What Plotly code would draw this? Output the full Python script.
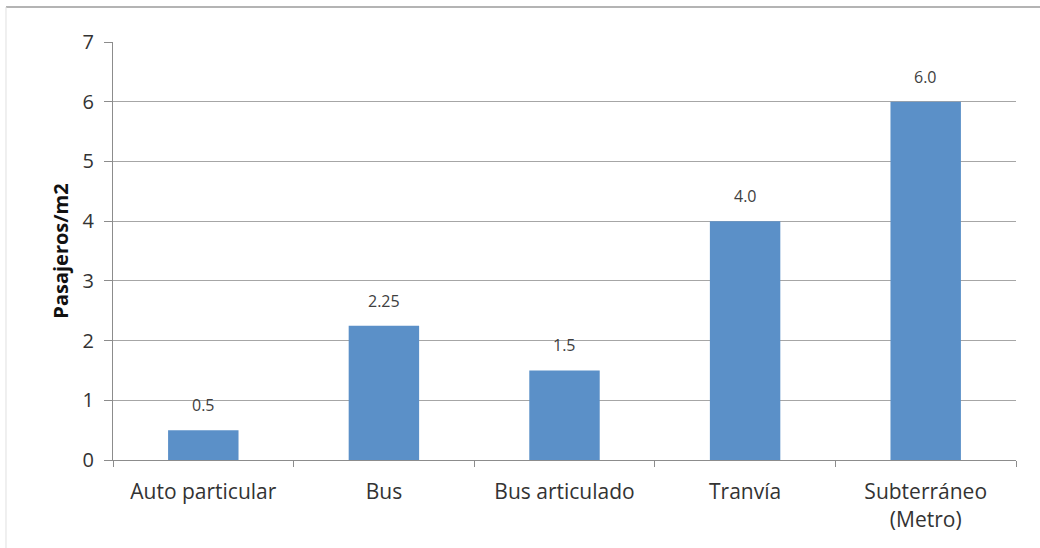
import plotly.graph_objects as go

categories = ["Auto particular", "Bus", "Bus articulado", "Tranvía", "Subterráneo<br>(Metro)"]
values = [0.5, 2.25, 1.5, 4.0, 6.0]
value_labels = ["0.5", "2.25", "1.5", "4.0", "6.0"]
y_ticks = [0, 1, 2, 3, 4, 5, 6, 7]

FONT = "Open Sans"
TXT = "#404040"

fig = go.Figure()
fig.add_trace(go.Bar(
    x=categories, y=values, marker=dict(color="#5B90C8", line=dict(width=0)),
    width=0.39, hoverinfo="skip",
))

for c, v, t in zip(categories, values, value_labels):
    fig.add_annotation(x=c, y=v, text=t, showarrow=False, yanchor="bottom",
                       yshift=12, font=dict(family=FONT, size=16, color=TXT))

fig.update_layout(
    width=1040, height=548,
    margin=dict(l=113, r=24, t=42, b=88),
    paper_bgcolor="white", plot_bgcolor="white",
    showlegend=False,
    font=dict(family=FONT, color=TXT),
    bargap=0.61,
)
fig.update_xaxes(
    showline=True, linecolor="#8c8c8c", linewidth=1,
    ticks="outside", tickson="boundaries", ticklen=6, tickcolor="#8c8c8c",
    tickfont=dict(family=FONT, size=21, color="#333333"),
    ticklabelstandoff=13,
    showgrid=False,
)
fig.update_yaxes(
    range=[0, 7], tickvals=y_ticks,
    showline=True, linecolor="#8c8c8c", linewidth=1,
    ticks="outside", ticklen=8, tickcolor="#8c8c8c",
    tickfont=dict(family=FONT, size=20, color="#333333"),
    ticklabelstandoff=6,
    showgrid=True, gridcolor="#a6a6a6", gridwidth=1,
    zeroline=False,
    title=dict(text="<b>Pasajeros/m2</b>", font=dict(family=FONT, size=20, color="#111111"), standoff=8),
)

# outer frame (top and left edges)
fig.add_shape(type="line", xref="paper", yref="paper", x0=-0.1185, x1=1.1, y0=1.0837, y1=1.0837,
              line=dict(color="#b4b4b4", width=2))
fig.add_shape(type="line", xref="paper", yref="paper", x0=-0.1185, x1=-0.1185, y0=1.0837, y1=-0.3,
              line=dict(color="#e0e0e0", width=1))

fig.write_html("out.html")
